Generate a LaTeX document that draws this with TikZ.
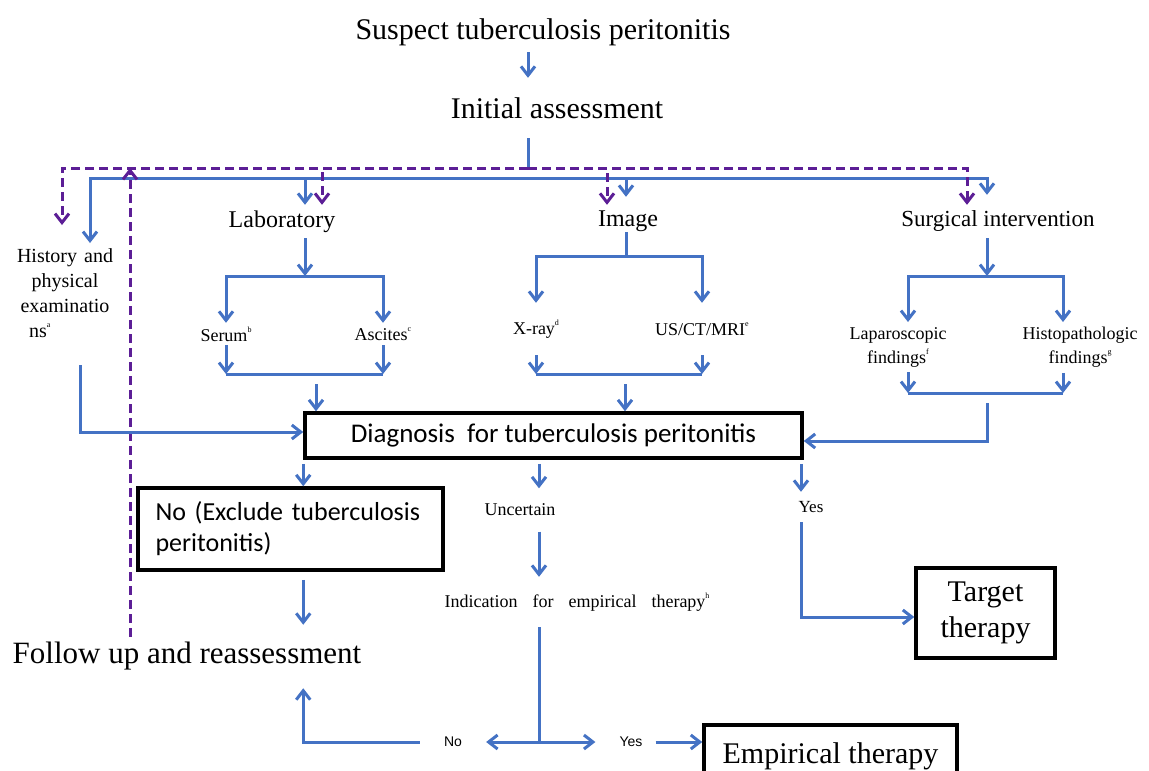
\documentclass[tikz,border=0pt]{standalone}
\usepackage{fontspec}
\setmainfont{Liberation Serif}
\newfontfamily\calibf{Carlito}
\newfontfamily\arialf{Liberation Sans}
\usetikzlibrary{arrows.meta}
\definecolor{tblue}{RGB}{68,114,196}
\definecolor{tpurple}{RGB}{92,30,150}
\def\fs#1#2{\fontsize{#1}{#2}\selectfont}
\def\supx#1{\raisebox{0.5em}{\fontsize{8}{8}\selectfont #1}}

\begin{document}
\begin{tikzpicture}[x=1pt,y=-1pt,
    ar/.style={draw=tblue,line width=3pt,-{Straight Barb[length=9pt,width=14pt]}},
    ln/.style={draw=tblue,line width=3pt},
    dar/.style={draw=tpurple,line width=3pt,dash pattern=on 9pt off 5pt,-{Straight Barb[length=9pt,width=14pt]}},
    txt/.style={inner sep=1pt},
    bx/.style={draw=black,line width=3.5pt,inner sep=0pt}]
    \fill[white] (0,0) rectangle (1149,771);
    \useasboundingbox (0,0) rectangle (1149,771);

    \node[txt,font=\fs{30}{36},minimum height=40pt] (susp) at (543,32) {Suspect tuberculosis peritonitis};
    \node[txt,font=\fs{30}{36},minimum height=60pt] (init) at (557,108) {Initial assessment};
    \node[txt,font=\fs{20}{25},align=left,anchor=north,inner ysep=5pt] (hist) at (65,243)
    	{\makebox[96pt][s]{History and}\\\makebox[96pt][c]{physical}\\\makebox[96pt][c]{examinatio}\\\makebox[96pt][l]{\hspace{12pt}ns\supx{a}}};
    \node[txt,font=\fs{24}{28},minimum height=33pt] (lab) at (282,221.5) {Laboratory};
    \node[txt,font=\fs{24}{28},minimum height=33pt] (img) at (628,221.5) {Image};
    \node[txt,font=\fs{23}{28},minimum height=33pt] (surg) at (998,221.5) {Surgical intervention};
    \node[txt,font=\fs{18}{22},minimum height=22pt] (serum) at (226,334) {Serum\supx{b}};
    \node[txt,font=\fs{18}{22},minimum height=22pt] (asc) at (383,334) {Ascites\supx{c}};
    \node[txt,font=\fs{18}{22},minimum height=52pt] (xray) at (536,329) {X-ray\supx{d}};
    \node[txt,font=\fs{18}{22},minimum height=52pt] (us) at (702,329) {US/CT/MRI\supx{e}};
    \node[txt,font=\fs{18}{24},align=center,anchor=north,inner ysep=5pt] (lap) at (898,322) {Laparoscopic\\findings\supx{f}};
    \node[txt,font=\fs{18}{24},align=center,anchor=north,inner ysep=5pt] (histo) at (1080,322) {Histopathologic\\findings\supx{g}};
    \node[bx,font=\calibf\fs{27}{32},minimum width=497pt,minimum height=45pt] (diag) at (553.5,435.5) {Diagnosis\ \ for tuberculosis peritonitis};
    \node[bx,font=\calibf\fs{26}{31},minimum width=305pt,minimum height=82pt,text width=270pt,align=left] (nobox) at (290.5,529) {No (Exclude tuberculosis\\peritonitis)};
    \node[txt,font=\fs{18}{22},minimum height=43pt] (unc) at (520,510) {Uncertain};
    \node[txt,font=\fs{17}{22},minimum height=30pt] (yes1) at (811,507) {Yes};
    \node[txt,font=\fs{18}{22},minimum height=50pt] (indic) at (577,602) {Indication\hspace{15pt}for\hspace{15pt}empirical\hspace{15pt}therapy\supx{h}};
    \node[txt,font=\fs{31}{36},inner ysep=5pt] (follow) at (187,656) {Follow up and reassessment};
    \node[bx,font=\fs{30}{36},align=center,minimum width=139pt,minimum height=90pt] (target) at (985.5,613) {Target\\therapy};
    \node[bx,font=\fs{30}{36},minimum width=253pt,minimum height=64pt,anchor=north] (emp) at (830.5,723) {Empirical therapy};
    \node[txt,font=\arialf\fs{14}{16},inner xsep=24pt] (no2) at (453,742) {No};
    \node[txt,font=\arialf\fs{14}{16},inner xsep=24pt] (yes2) at (631,742) {Yes};

    \coordinate (bus) at (528,178);
    \coordinate (dbus) at (528,168);
    \coordinate (lbr) at (305,276);
    \coordinate (ibr) at (626,256);
    \coordinate (sbr) at (987,276);
    \coordinate (sjn) at (316,374);
    \coordinate (xjn) at (625,374);
    \coordinate (hjn) at (987,393);
    \coordinate (ux) at (539,0);
    \coordinate (yx) at (801,0);
    \coordinate (jn) at (ux |- no2);

    \draw[ar] (susp.south -| bus) -- (init.north -| bus);
    \draw[ln] (init.south -| bus) -- (dbus);
    \draw[ar] (bus) -| ([xshift=25pt]hist.north);
    \draw[ar,shorten >=10pt] (bus) -| (surg.north -| sbr);
    \draw[ar] (bus -| lbr) -- (lab.north -| lbr);
    \draw[ar,shorten >=8pt] (bus -| ibr) -- (img.north -| ibr);

    \draw[dar,shorten >=18pt] (dbus) -| ([xshift=-3pt]hist.north);
    \draw[dar] (dbus) -| ([xshift=40pt]lab.north);
    \draw[dar] (dbus) -| ([xshift=-21pt]img.north);
    \draw[dar] (dbus) -| ([xshift=-31pt]surg.north);
    \draw[dar] ([xshift=-57pt]follow.north) -- ([xshift=-57pt]follow.north |- dbus);

    \draw[ar] (lab.south -| lbr) -- (lbr);
    \draw[ar] (lbr) -| (serum.north);
    \draw[ar] (lbr) -| (asc.north);
    \draw[ln,shorten <=-6pt] (img.south -| ibr) -- (ibr);
    \draw[ar] (ibr) -| (xray.north);
    \draw[ar] (ibr) -| (us.north);
    \draw[ar] (surg.south -| sbr) -- (sbr);
    \draw[ar] (sbr) -| ([xshift=10pt]lap.north);
    \draw[ar] (sbr) -| ([xshift=-17pt]histo.north);

    \foreach \n in {serum,asc} \draw[ar] (\n.south) -- (\n.south |- sjn);
    \draw[ln] (serum.south |- sjn) -- (asc.south |- sjn);
    \draw[ar,shorten <=10pt] (sjn) -- (sjn |- diag.north);
    \foreach \n in {xray,us} \draw[ar] (\n.south) -- (\n.south |- xjn);
    \draw[ln] (xray.south |- xjn) -- (us.south |- xjn);
    \draw[ar,shorten <=10pt] (xjn) -- (xjn |- diag.north);
    \draw[ar] ([xshift=10pt]lap.south) -- ([xshift=10pt]lap.south |- hjn);
    \draw[ar] ([xshift=-17pt]histo.south) -- ([xshift=-17pt]histo.south |- hjn);
    \draw[ln] ([xshift=10pt]lap.south |- hjn) -- ([xshift=-17pt]histo.south |- hjn);
    \draw[ar,shorten <=10pt] (hjn) |- ([yshift=-5.5pt]diag.east);
    \draw[ar,shorten <=23pt] ([xshift=15pt]hist.south) |- ([yshift=3.5pt]diag.west);

    \draw[ar,shorten <=4pt] (diag.south west) -- (diag.south west |- nobox.north);
    \draw[ar,shorten <=4pt] (diag.south -| ux) -- (unc.north -| ux);
    \draw[ar,shorten <=4pt] (diag.south -| yx) -- (yes1.north -| yx);
    \draw[ar,shorten <=8pt,shorten >=12pt] (nobox.south -| diag.west) -- (follow.north -| diag.west);
    \draw[ar] (unc.south -| ux) -- (indic.north -| ux);
    \draw[ar] (yes1.south -| yx) |- ([yshift=-4pt]target.west);
    \draw[ln] (indic.south -| ux) -- (jn);
    \draw[ar] (jn) -- (no2.east);
    \draw[ar] (jn) -- (yes2.west);
    \draw[ar,shorten <=-11pt] (yes2.east) -- (emp.west |- yes2);
    \draw[ar,shorten >=13pt] (no2.west) -| (follow.south -| diag.west);
\end{tikzpicture}
\end{document}
